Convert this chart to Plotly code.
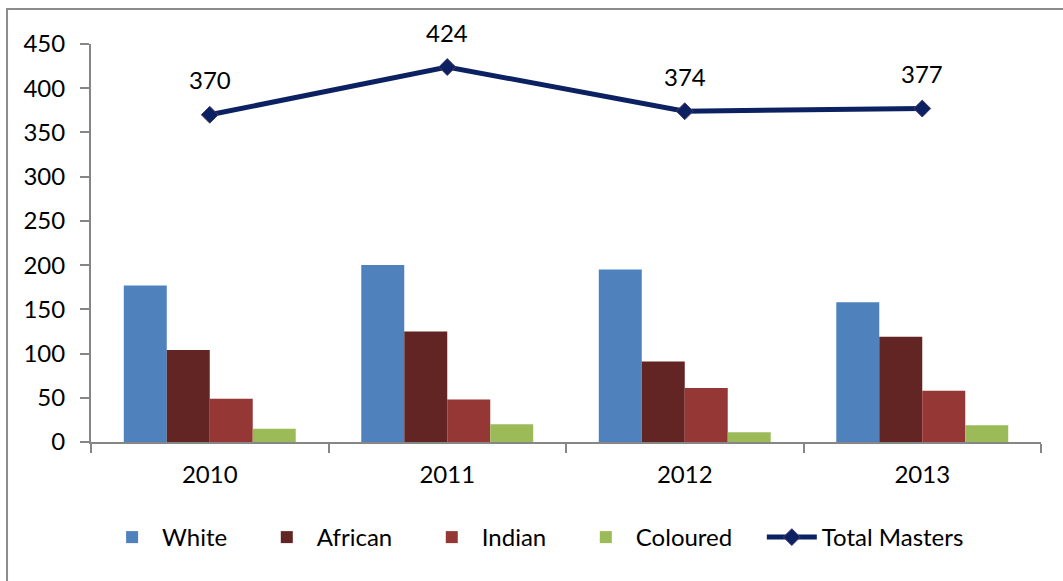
import plotly.graph_objects as go

years = ["2010", "2011", "2012", "2013"]
white = [177, 200, 195, 158]
african = [104, 125, 91, 119]
indian = [49, 48, 61, 58]
coloured = [15, 20, 11, 19]
total = [370, 424, 374, 377]

font_family = "Lato, 'Open Sans', sans-serif"
pad = "\u00a0" * 4  # extra spacing between legend entries

fig = go.Figure()
for name, vals, col in [("White", white, "#4F81BD"), ("African", african, "#632523"),
                        ("Indian", indian, "#953735"), ("Coloured", coloured, "#9BBB59")]:
    fig.add_trace(go.Bar(x=years, y=vals, name=name + pad, marker=dict(color=col, line=dict(width=0))))

fig.add_trace(go.Scatter(x=years, y=total, name="Total Masters", mode="lines+markers",
                         line=dict(color="#0B2161", width=5),
                         marker=dict(symbol="diamond", size=13, color="#0B2161",
                                     line=dict(color="#4B3A6B", width=1))))

# annotation x given as category index (years are numeric-like strings)
annotations = [dict(x=i, y=y, text=str(y), showarrow=False, yshift=35, yanchor="middle",
                    font=dict(size=24, color="black", family=font_family))
               for i, y in enumerate(total)]

fig.update_layout(
    width=1063, height=581,
    paper_bgcolor="white", plot_bgcolor="white",
    margin=dict(l=91, r=22, t=44, b=139),
    barmode="group", bargap=0.276, bargroupgap=0,
    font=dict(family=font_family, size=24, color="black"),
    showlegend=True,
    legend=dict(orientation="h", x=0.468, xanchor="center", y=-0.24, yanchor="middle",
                font=dict(size=24), traceorder="normal", itemwidth=50),
    annotations=annotations,
    shapes=[
        dict(type="line", xref="paper", yref="paper", x0=-0.0884, x1=-0.0884, y0=1.088, y1=-0.36,
             line=dict(color="#8C8C8C", width=2)),
        dict(type="line", xref="paper", yref="paper", x0=-0.0894, x1=1.03, y0=1.088, y1=1.088,
             line=dict(color="#8C8C8C", width=2)),
    ],
)
fig.update_xaxes(type="category", range=[-0.5, len(years) - 0.5], showline=True,
                 linecolor="#868686", linewidth=2, ticks="outside",
                 tickson="boundaries", ticklen=9, tickcolor="#868686", tickwidth=2,
                 showgrid=False, tickfont=dict(size=24), ticklabelstandoff=10)
fig.update_yaxes(range=[0, 450], dtick=50, showline=True, linecolor="#868686", linewidth=2,
                 ticks="outside", ticklen=9, tickcolor="#868686", tickwidth=2,
                 showgrid=False, zeroline=False, tickfont=dict(size=24), ticklabelstandoff=10)

fig.write_html("out.html", post_script="document.body.style.margin='0px';",
               config={"displayModeBar": False})
